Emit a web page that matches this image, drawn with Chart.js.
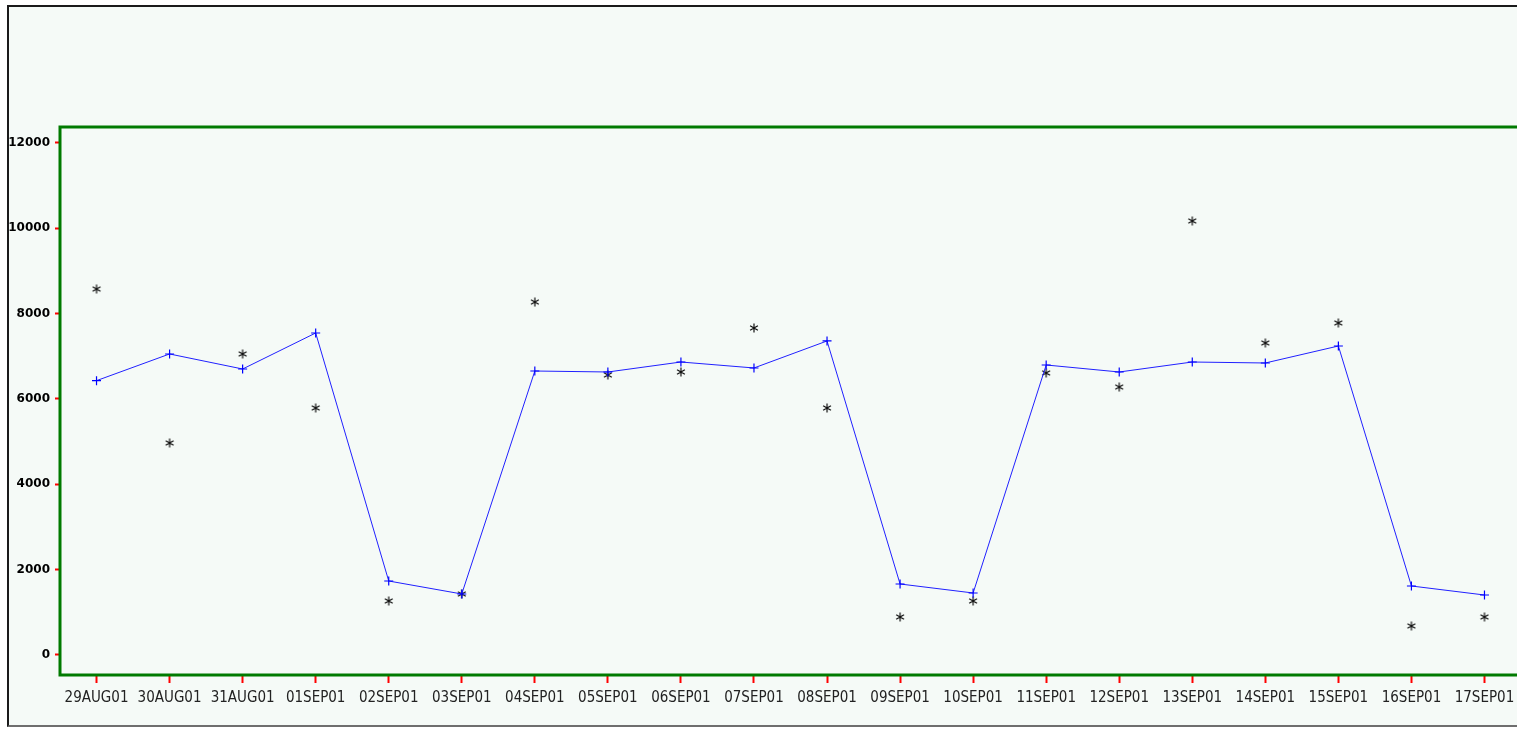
<!DOCTYPE html>
<html>
<head>
<meta charset="utf-8">
<script src="https://cdn.jsdelivr.net/npm/chart.js@4.4.0/dist/chart.umd.min.js"></script>
<style>
  html, body { margin: 0; padding: 0; background: #fff; overflow: hidden; }
  #box {
    position: absolute; left: 7px; top: 5px;
    width: 1540px; height: 718px;
    border: 2px solid #1a1a1a; border-bottom-color: #6e6e6e;
    background: #f5faf7;
  }
  #wrap { position: relative; width: 1530px; height: 718px; }
</style>
</head>
<body>
<div id="box"><div id="wrap"><canvas id="myChart"></canvas></div></div>
<script>
const ctx = document.getElementById('myChart');

// categories
const days = ['29AUG01', '30AUG01', '31AUG01', '01SEP01', '02SEP01', '03SEP01', '04SEP01',
    '05SEP01', '06SEP01', '07SEP01', '08SEP01', '09SEP01', '10SEP01', '11SEP01',
    '12SEP01', '13SEP01', '14SEP01', '15SEP01', '16SEP01', '17SEP01'];

// blue line with + markers
const lineValues = [6430, 7055, 6703, 7547, 1734, 1430, 6656, 6633, 6867, 6727,
    7360, 1664, 1453, 6797, 6633, 6867, 6844, 7242, 1617, 1406];

// black asterisks
const starValues = [8578, 4969, 7055, 5789, 1266, 1430, 8273, 6563, 6633, 7664,
    5789, 891, 1266, 6610, 6281, 10172, 7313, 7782, 680, 891];

// y tick labels
const yTicks = [0, 2000, 4000, 6000, 8000, 10000, 12000];

// little 6-armed asterisk used as point image
function makeStar(size) {
    const c = document.createElement('canvas');
    c.width = size;
    c.height = size;
    const g = c.getContext('2d');
    g.strokeStyle = '#111';
    g.lineWidth = 1.2;
    const m = size / 2, r = size / 2 - 0.5;
    const dx = r * Math.cos(Math.PI / 6), dy = r * Math.sin(Math.PI / 6);
    g.beginPath();
    g.moveTo(m, m - r); g.lineTo(m, m + r);
    g.moveTo(m - dx, m - dy); g.lineTo(m + dx, m + dy);
    g.moveTo(m - dx, m + dy); g.lineTo(m + dx, m - dy);
    g.stroke();
    return c;
}

// green frame round the plot area
const framePlugin = {
    id: 'frame',
    afterDraw(chart) {
        const a = chart.chartArea;
        const c = chart.ctx;
        c.save();
        c.strokeStyle = '#007a00';
        c.lineWidth = 3;
        c.strokeRect(a.left, a.top, a.right - a.left, a.bottom - a.top);
        c.restore();
    }
};

const chart = new Chart(ctx, {
    type: 'line',
    data: {
        labels: days,
        datasets: [
            {
                label: 'line',
                data: lineValues,
                borderColor: '#2020ff',
                borderWidth: 1,
                pointStyle: 'cross',
                pointRadius: 4.5,
                pointBorderColor: '#0000ff',
                pointBorderWidth: 1.2,
                tension: 0
            },
            {
                label: 'star',
                data: starValues,
                showLine: false,
                pointStyle: makeStar(10),
                pointRadius: 5
            }
        ]
    },
    options: {
        responsive: true,
        maintainAspectRatio: false,
        animation: false,
        layout: { padding: { top: 120, right: 18, left: 0, bottom: 0 } },
        plugins: {
            legend: { display: false },
            tooltip: { enabled: false }
        },
        scales: {
            x: {
                offset: true,
                border: { display: false },
                grid: {
                    drawOnChartArea: false,
                    drawTicks: true,
                    tickLength: 8,
                    tickColor: '#ff0000',
                    tickWidth: 2
                },
                ticks: {
                    autoSkip: false,
                    maxRotation: 0,
                    padding: 6,
                    color: '#222',
                    font: { family: "'Liberation Sans Narrow', 'DejaVu Sans Condensed', 'DejaVu Sans'", size: 15 }
                },
                afterFit: scale => { scale.height = 50; }
            },
            y: {
                min: -469,
                max: 12375,
                border: { display: false },
                grid: {
                    drawOnChartArea: false,
                    drawTicks: true,
                    tickLength: 5,
                    tickColor: '#ff0000',
                    tickWidth: 2
                },
                ticks: {
                    padding: 5,
                    color: '#000',
                    font: { family: 'DejaVu Sans', size: 12, weight: 'bold' },
                    callback: v => String(v)
                },
                afterBuildTicks: scale => { scale.ticks = yTicks.map(v => ({ value: v })); },
                afterFit: scale => { scale.width = 51; }
            }
        }
    },
    plugins: [framePlugin]
});
</script>
</body>
</html>
